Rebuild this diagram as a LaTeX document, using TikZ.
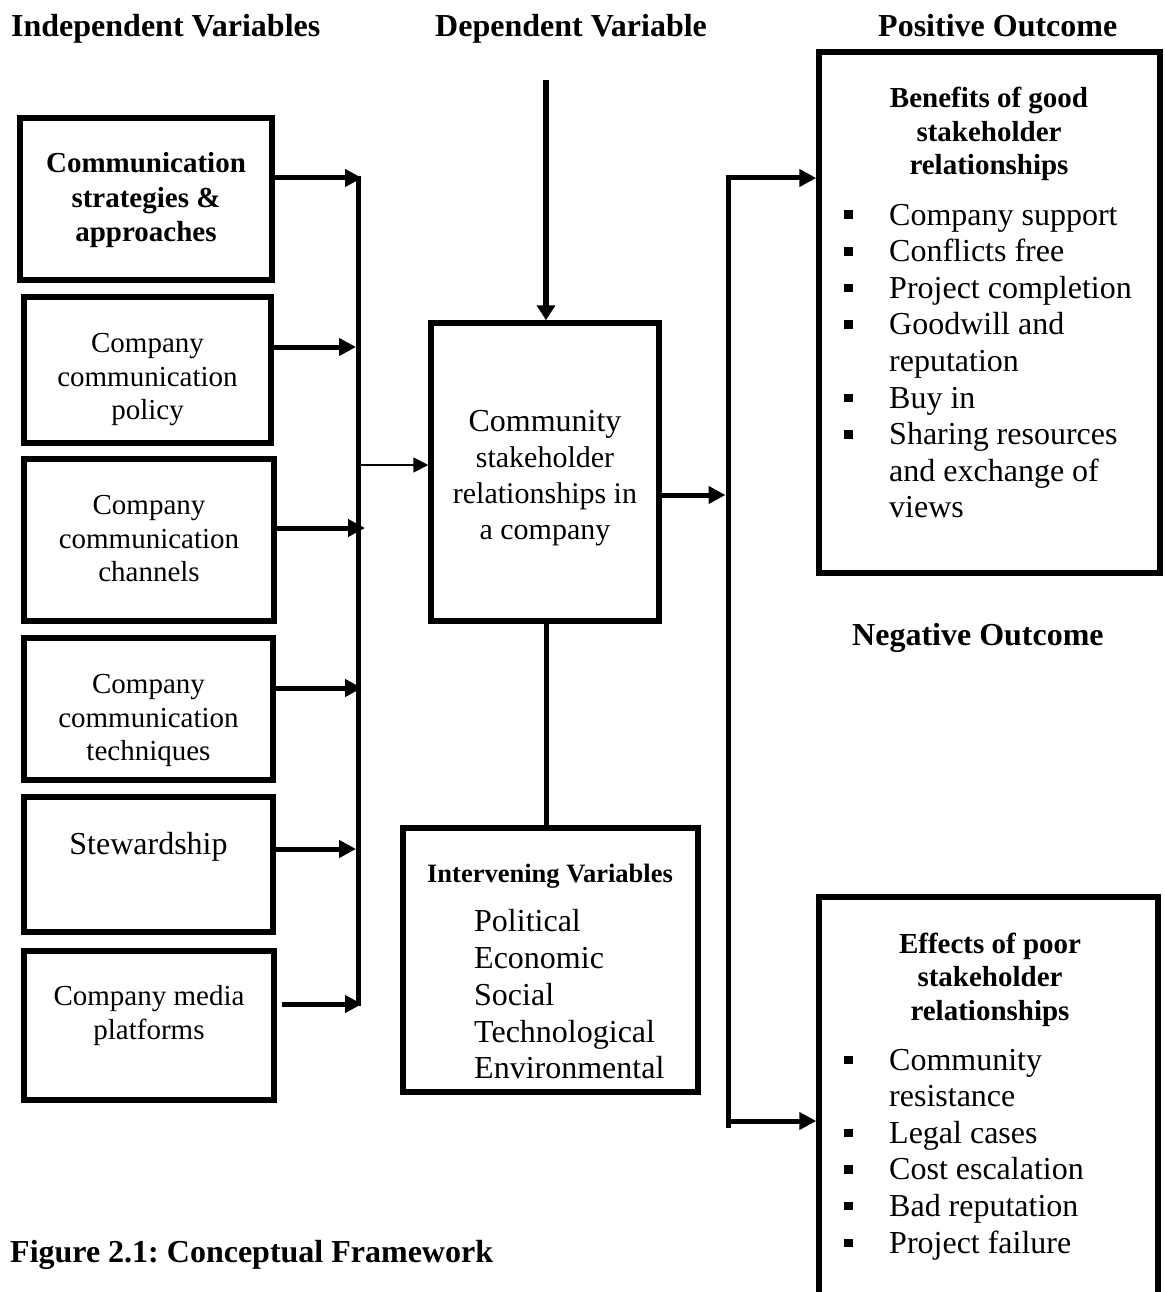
\documentclass[tikz,border=0pt]{standalone}
\usepackage{fontspec}
\setmainfont{Liberation Serif}
\usetikzlibrary{arrows.meta}
\frenchspacing
\newcommand\FixSp{\spaceskip=\fontdimen2\font\relax\xspaceskip=\fontdimen2\font\relax}
\newcommand\FBig{\fontsize{32}{36.6}\selectfont}
\newcommand\FMid{\fontsize{29}{33.5}\selectfont}
\newcommand\FSml{\fontsize{26.5}{30.5}\selectfont}
\newcommand\Bul{\makebox[45pt][l]{\rule[6pt]{8.5pt}{8.5pt}}}
\newcommand\Ind{\hspace*{45pt}}
\begin{document}
\begin{tikzpicture}[x=1pt,y=-1pt,
  box/.style={draw, line width=5.5pt, inner sep=0pt, rectangle},
  txt/.style={inner sep=0pt, anchor=base, align=center, text width=#1, execute at begin node={\FixSp}},
  txt/.default=240pt,
  lst/.style={inner sep=0pt, anchor=base west, align=left, text width=#1, execute at begin node={\FixSp}},
  lst/.default=310pt,
  hdr/.style={inner sep=0pt, anchor=base west, font=\FBig\bfseries},
  arr/.style={line width=5pt, line join=miter, -{Triangle[length=17pt,width=17pt]}},
  arrv/.style={line width=5.5pt, -{Triangle[length=15pt,width=18pt]}},
  thin/.style={line width=1.8pt, -{Triangle[length=15pt,width=15pt]}},
  bus/.style={line width=5pt}]
\path[use as bounding box] (0,0) rectangle (1164,1292);

% headers
\node[hdr] (hIndep) at (11,37) {Independent Variables};
\node[hdr] (hDep) at (435,37) {Dependent Variable};
\node[hdr] (hPos) at (878,37) {Positive Outcome};
\node[hdr] (hNeg) at (852,645) {Negative Outcome};
\node[hdr] (fig) at (10,1262) {Figure 2.1: Conceptual Framework};

% left column boxes
\node[box, minimum width=252pt, minimum height=162pt] (b1) at (146,199) {};
\node[box, minimum width=247pt, minimum height=146pt] (b2) at (147.5,370) {};
\node[box, minimum width=250pt, minimum height=162pt] (b3) at (149,540) {};
\node[box, minimum width=249pt, minimum height=142pt] (b4) at (148.5,709) {};
\node[box, minimum width=249pt, minimum height=135pt] (b5) at (148.5,864.5) {};
\node[box, minimum width=250pt, minimum height=149pt] (b6) at (149,1025.5) {};

\node[txt, font={\fontsize{29}{34.5}\selectfont\bfseries}] (t1) at (146,173) {Communication\\strategies \&\\approaches};
\node[txt, font=\FMid] (t2) at (147.5,352.5) {Company\\communication\\policy};
\node[txt, font=\FMid] (t3) at (149,514.5) {Company\\communication\\channels};
\node[txt, font=\FMid] (t4) at (148.5,693.5) {Company\\communication\\techniques};
\node[txt, font=\FBig] (t5) at (148.5,854) {Stewardship};
\node[txt, font=\FMid] (t6) at (149,1005.5) {Company media\\platforms};

% centre box
\node[box, minimum width=228pt, minimum height=298pt] (c) at (545,472) {};
\node[txt=222pt, font={\fontsize{30}{36}\selectfont}] (tc) at (545,431)
  {{\FBig Community}\\stakeholder\\relationships in\\a company};

% intervening box
\node[box, minimum width=295pt, minimum height=264pt] (iv) at (550.5,960) {};
\node[txt=290pt, font=\FSml\bfseries] (ivh) at (550,882) {Intervening Variables};
\node[lst=220pt, font={\fontsize{32}{36.8}\selectfont}] (ivl) at (474,931.7)
  {Political\\Economic\\Social\\Technological\\Environmental};

% outcome boxes
\node[box, minimum width=341pt, minimum height=521pt] (pos) at (989.5,312.5) {};
\node[txt=330pt, font=\FMid\bfseries] (posh) at (989,108) {Benefits of good\\stakeholder\\relationships};
\node[lst, font=\FBig] (posl) at (844,225)
  {\Bul Company support\\\Bul Conflicts free\\\Bul Project completion\\\Bul Goodwill and\\\Ind reputation\\\Bul Buy in\\\Bul Sharing resources\\\Ind and exchange of\\\Ind views};

\node[box, minimum width=339pt, minimum height=440pt] (neg) at (988.5,1117) {};
\node[txt=330pt, font=\FMid\bfseries] (negh) at (990,953) {Effects of poor\\stakeholder\\relationships};
\node[lst, font=\FBig] (negl) at (844,1070)
  {\Bul Community\\\Ind resistance\\\Bul Legal cases\\\Bul Cost escalation\\\Bul Bad reputation\\\Bul Project failure};

% left bus and arrows
\coordinate (busTop) at (358,176);
\coordinate (busBot) at (358,1006);
\draw[bus] (busTop) -- (busBot);
\coordinate (a1) at (362,178);
\coordinate (a2) at (356,347);
\coordinate (a3) at (365,528);
\coordinate (a4) at (362,688);
\coordinate (a5) at (356,849);
\coordinate (a6) at (362,1004);
\draw[arr] (a1 -| b1.east) -- (a1);
\draw[arr] (a2 -| b2.east) -- (a2);
\draw[arr] (a3 -| b3.east) -- (a3);
\draw[arr] (a4 -| b4.east) -- (a4);
\draw[arr] (a5 -| b5.east) -- (a5);
\draw[arr] ([xshift=5pt]a6 -| b6.east) -- (a6);

% bus to centre box
\coordinate (thinStart) at (360.5,465);
\draw[thin] (thinStart) -- (thinStart -| c.west);

% top arrow into centre box
\coordinate (topStart) at (546,80);
\draw[arrv] (topStart) -- (topStart |- c.north);

% centre to intervening
\draw[line width=5pt] (topStart |- c.south) -- (topStart |- iv.north);

% centre to right bus
\coordinate (rb) at (725.5,495);
\draw[arr] (rb -| c.east) -- (rb);

% right bus
\coordinate (rbusTop) at (728,178);
\coordinate (rbusBot) at (728,1128);
\coordinate (rbLow) at (728,1121);
\draw[arr] (rbusBot) -- (rbusTop) -- (rbusTop -| pos.west);
\draw[arr] (rbLow) -- (rbLow -| neg.west);
\end{tikzpicture}
\end{document}
